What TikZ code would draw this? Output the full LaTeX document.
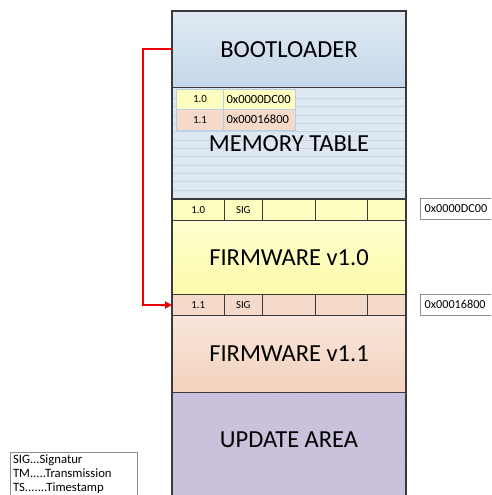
\documentclass[tikz,border=0pt]{standalone}
\usepackage{fontspec}
\setmainfont{Carlito}
\usetikzlibrary{arrows.meta,patterns,shadows}
\definecolor{frame}{HTML}{3A3A3A}
\definecolor{bootTop}{HTML}{E0E9F3}
\definecolor{bootBot}{HTML}{C4D7E9}
\definecolor{memFill}{HTML}{DEE8F3}
\definecolor{memLine}{HTML}{C6D4E5}
\definecolor{mtBorder}{HTML}{B9CDE3}
\definecolor{yelTop}{HTML}{FFFFD2}
\definecolor{yelBot}{HTML}{FBFBA8}
\definecolor{yelRow}{HTML}{FEFEC0}
\definecolor{peaTop}{HTML}{F9E6DA}
\definecolor{peaBot}{HTML}{F3D2BE}
\definecolor{peaRow}{HTML}{F5DACA}
\definecolor{lavFill}{HTML}{CEC6DF}
\definecolor{lavHatch}{HTML}{C3B9D8}
\definecolor{arrowRed}{HTML}{EE0000}
\definecolor{boxLine}{HTML}{8C8C8C}
\begin{document}
\begin{tikzpicture}[x=1pt,y=-1pt,
  block/.style={draw=frame, line width=1.6pt, anchor=north west, inner sep=0pt, outer sep=0pt,
    minimum width=234pt, font=\fontsize{24.5}{28}\selectfont},
  rowcell/.style={draw=frame, line width=1pt, anchor=north west, inner sep=0pt, outer sep=0pt,
    font=\fontsize{10.8}{12}\selectfont},
  mtcell/.style={draw=mtBorder, line width=0.9pt, anchor=north west, inner sep=0pt, outer sep=0pt,
    font=\fontsize{12.5}{14}\selectfont},
  addrbox/.style={draw=boxLine, line width=0.7pt, fill=white, anchor=north west, outer sep=0pt,
    inner xsep=4pt, inner ysep=0pt, text width=72pt, align=left, minimum height=21pt,
    font=\fontsize{12.2}{14}\selectfont,
    drop shadow={shadow xshift=1pt, shadow yshift=-1pt, opacity=0.25}},
  legendbox/.style={draw=boxLine, line width=0.7pt, anchor=north west, outer sep=0pt,
    inner xsep=3pt, inner ysep=2.5pt, text width=121.5pt, align=left,
    font=\fontsize{12.7}{14}\selectfont},
  redarrow/.style={draw=arrowRed, line width=1.8pt, -{Triangle[length=7pt,width=7pt]}}
]
\clip (0,0) rectangle (491,495);

% main column
\node[block, minimum height=76.5pt, top color=bootTop, bottom color=bootBot] (boot) at (172,11) {BOOTLOADER};
\node[block, minimum height=111.5pt, fill=memFill] (mem) at (172,87.5) {};
\foreach \k in {0,...,11} {
  \draw[memLine, line width=0.8pt] (172.7,98.3+8.33*\k) -- (405.3,98.3+8.33*\k);
}
\node[font=\fontsize{24.5}{28}\selectfont] (memlabel) at (289,143.25) {MEMORY TABLE};
\draw[frame, line width=1.6pt] (mem.north west) rectangle (mem.south east);

% memory table inner table
\node[mtcell, fill=yelRow, minimum width=46.6pt, minimum height=20pt, font=\fontsize{11}{12}\selectfont] (mt1a) at (176.7,89.3) {1.0};
\node[mtcell, fill=yelRow, minimum width=72.4pt, minimum height=20pt, text width=66pt, align=left, inner xsep=3.2pt] (mt1b) at (223.3,89.3) {0x0000DC00};
\node[mtcell, fill=peaRow, minimum width=46.6pt, minimum height=20.7pt, font=\fontsize{11}{12}\selectfont] (mt2a) at (176.7,109.3) {1.1};
\node[mtcell, fill=peaRow, minimum width=72.4pt, minimum height=20.7pt, text width=66pt, align=left, inner xsep=3.2pt] (mt2b) at (223.3,109.3) {0x00016800};

% firmware 1.0 header row
\node[rowcell, fill=yelRow, minimum width=52.3pt, minimum height=21.5pt] (r10a) at (172,199) {1.0};
\node[rowcell, fill=yelRow, minimum width=38pt, minimum height=21.5pt] (r10b) at (224.3,199) {SIG};
\node[rowcell, fill=yelRow, minimum width=52.7pt, minimum height=21.5pt] (r10c) at (262.3,199) {};
\node[rowcell, fill=yelRow, minimum width=52.7pt, minimum height=21.5pt] (r10d) at (315,199) {};
\node[rowcell, fill=yelRow, minimum width=38.3pt, minimum height=21.5pt] (r10e) at (367.7,199) {};

\node[block, minimum height=74pt, top color=yelTop, bottom color=yelBot] (fw10) at (172,220.5) {FIRMWARE v1.0};

% firmware 1.1 header row
\node[rowcell, fill=peaRow, minimum width=52.3pt, minimum height=21pt] (r11a) at (172,294.5) {1.1};
\node[rowcell, fill=peaRow, minimum width=38pt, minimum height=21pt] (r11b) at (224.3,294.5) {SIG};
\node[rowcell, fill=peaRow, minimum width=52.7pt, minimum height=21pt] (r11c) at (262.3,294.5) {};
\node[rowcell, fill=peaRow, minimum width=52.7pt, minimum height=21pt] (r11d) at (315,294.5) {};
\node[rowcell, fill=peaRow, minimum width=38.3pt, minimum height=21pt] (r11e) at (367.7,294.5) {};

\node[block, minimum height=77pt, top color=peaTop, bottom color=peaBot] (fw11) at (172,315.5) {FIRMWARE v1.1};

\node[block, minimum height=112pt, fill=lavFill,
  postaction={pattern=north east lines, pattern color=lavHatch}] (upd) at (172,392.5) {};
\node[font=\fontsize{24.5}{28}\selectfont] (updlabel) at (289,440) {UPDATE AREA};

% outer frame and block separators redraw
\draw[frame, line width=1.6pt] (boot.north west) -- (boot.north east) -- (upd.south east);
\draw[frame, line width=1.6pt] (boot.north west) -- (upd.south west);
\draw[frame, line width=1.6pt] (r10a.north west) -- (r10e.north east);
\draw[frame, line width=1.6pt] (fw10.north west) -- (fw10.north east);
\draw[frame, line width=1.6pt] (fw10.south west) -- (fw10.south east);
\draw[frame, line width=1.6pt] (fw11.north west) -- (fw11.north east);
\draw[frame, line width=1.6pt] (fw11.south west) -- (fw11.south east);

% address boxes
\node[addrbox] (addr10) at (420.7,198.3) {0x0000DC00};
\node[addrbox] (addr11) at (420.7,294) {0x00016800};

% legend
\node[legendbox] (legend) at (10,452) {SIG...Signatur\\TM.....Transmission\\TS.......Timestamp};

% red arrow
\coordinate (turn) at (142.7,49.25);
\draw[redarrow] (boot.west) -- (turn) |- (r11a.west);
\end{tikzpicture}
\end{document}
